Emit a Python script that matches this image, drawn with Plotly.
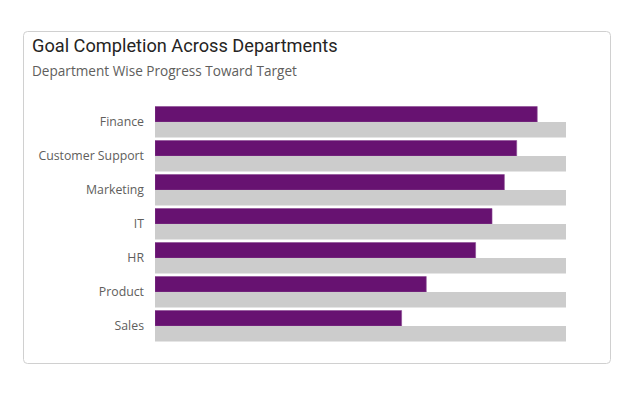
import plotly.graph_objects as go

departments = ["Finance", "Customer Support", "Marketing", "IT", "HR", "Product", "Sales"]
progress = [93, 88, 85, 82, 78, 66, 60]
target = [100, 100, 100, 100, 100, 100, 100]

OFF = 8  # page body margin
W, H = 644, 399
pw, ph = 411, 238
L = 155 - OFF
T = 105 - OFF
R = W - L - pw
B = H - T - ph

def px(x):
    return (x - OFF - L) / pw

def py(y):
    return (T + ph - (y - OFF)) / ph

fig = go.Figure()
fig.add_trace(go.Bar(y=departments, x=progress, orientation="h", name="Progress",
                     marker=dict(color="#671271", line=dict(color="#8a4a92", width=0.6)),
                     hoverinfo="x+y"))
fig.add_trace(go.Bar(y=departments, x=target, orientation="h", name="Target",
                     marker=dict(color="#CCCCCC", line=dict(width=0)),
                     hoverinfo="x+y"))

# card border (rounded rect) in paper coords
x0, x1, y0, y1 = 23.5, 610.5, 31.5, 363.5
r = 4
path = (f"M {px(x0+r)},{py(y0)} L {px(x1-r)},{py(y0)} Q {px(x1)},{py(y0)} {px(x1)},{py(y0+r)} "
        f"L {px(x1)},{py(y1-r)} Q {px(x1)},{py(y1)} {px(x1-r)},{py(y1)} "
        f"L {px(x0+r)},{py(y1)} Q {px(x0)},{py(y1)} {px(x0)},{py(y1-r)} "
        f"L {px(x0)},{py(y0+r)} Q {px(x0)},{py(y0)} {px(x0+r)},{py(y0)} Z")

fig.update_layout(
    width=W, height=H,
    margin=dict(l=L, r=R, t=T, b=B),
    paper_bgcolor="white", plot_bgcolor="white",
    barmode="group", bargap=0.09, bargroupgap=0,
    showlegend=False,
    shapes=[dict(type="path", xref="paper", yref="paper", path=path,
                 line=dict(color="#D0D0D0", width=1), fillcolor="rgba(0,0,0,0)", layer="below")],
    annotations=[
        dict(text="Goal Completion Across Departments", xref="paper", yref="paper",
             x=px(30), y=py(45), xanchor="left", yanchor="middle", showarrow=False,
             font=dict(family="Roboto", size=18.2, weight=400, color="#252423")),
        dict(text="Department Wise Progress Toward Target", xref="paper", yref="paper",
             x=px(30), y=py(70), xanchor="left", yanchor="middle", showarrow=False,
             font=dict(family="Open Sans", size=13.6, color="#605E5C")),
    ],
    xaxis=dict(range=[0, 100], visible=False, showgrid=False, zeroline=False, fixedrange=True),
    yaxis=dict(autorange="reversed", showgrid=False, zeroline=False, showline=False,
               ticks="", ticklabelstandoff=10,
               tickfont=dict(family="Open Sans", size=12.3, color="#605E5C")),
)

fig.write_html("out.html")
